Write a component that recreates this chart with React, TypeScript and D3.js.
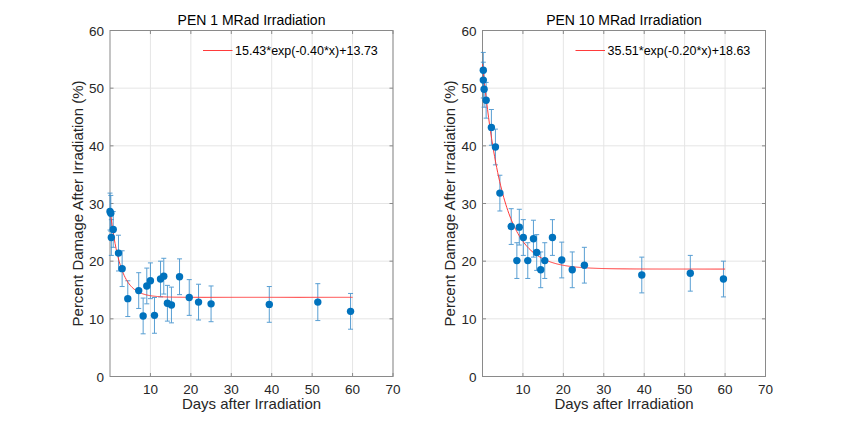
import React from "react";
import * as d3 from "d3";

const days1 = [0, 0.2, 0.33, 0.8, 2.1, 3.0, 4.4, 7.1, 8.2, 9.1, 10.0, 11.0, 12.5, 13.3, 14.2, 15.2, 17.2, 19.6, 21.9, 25.0, 39.4, 51.4, 59.5];
const damage1 = [28.6, 28.3, 24.1, 25.5, 21.4, 18.7, 13.5, 14.9, 10.5, 15.7, 16.6, 10.6, 16.9, 17.4, 12.7, 12.4, 17.3, 13.7, 12.9, 12.6, 12.5, 12.9, 11.3];
const err1 = [3.2, 3.1, 3.1, 3.1, 3.1, 3.1, 3.1, 3.1, 3.1, 3.1, 3.1, 3.1, 3.1, 3.1, 3.1, 3.1, 3.1, 3.1, 3.1, 3.1, 3.1, 3.2, 3.1];

const days2 = [0.2, 0.2, 0.4, 0.9, 2.2, 3.2, 4.3, 7.1, 8.5, 9.1, 10.1, 11.2, 12.6, 13.4, 14.4, 15.4, 17.3, 19.6, 22.2, 25.2, 39.4, 51.4, 59.6];
const damage2 = [53.1, 51.4, 49.8, 47.9, 43.2, 39.8, 31.8, 26.0, 20.1, 25.9, 24.1, 20.1, 23.9, 21.5, 18.5, 20.1, 24.1, 20.2, 18.5, 19.3, 17.6, 17.9, 16.9];
const err2 = [3.1, 3.1, 3.1, 3.1, 3.1, 3.1, 3.1, 3.1, 3.1, 3.1, 3.1, 3.1, 3.2, 3.1, 3.1, 3.1, 3.1, 3.1, 3.1, 3.1, 3.1, 3.1, 3.1];

const fit1 = { a: 15.43, b: -0.4, c: 13.73 };
const fit2 = { a: 35.51, b: -0.2, c: 18.63 };

const titles = ["PEN 1 MRad Irradiation", "PEN 10 MRad Irradiation"];
const legends = ["15.43*exp(-0.40*x)+13.73", "35.51*exp(-0.20*x)+18.63"];
const xTicks = [10, 20, 30, 40, 50, 60, 70];
const yTicks = [0, 10, 20, 30, 40, 50, 60];

const FONT = "'Liberation Sans', Arial, Helvetica, sans-serif";
const BLUE = "#0072BD";

type PanelProps = {
  left: number;
  days: number[];
  vals: number[];
  errs: number[];
  fit: { a: number; b: number; c: number };
  title: string;
  legend: string;
};

function Panel({ left, days, vals, errs, fit, title, legend }: PanelProps) {
  const top = 30.5;
  const bottom = 376.5;
  const right = left + 283;
  const x = d3.scaleLinear().domain([0, 70]).range([left, right]);
  const y = d3.scaleLinear().domain([0, 60]).range([bottom, top]);
  const fitPts = d3.range(0, 60.01, 0.25).map((t) => [t, fit.a * Math.exp(fit.b * t) + fit.c] as [number, number]);
  const line = d3.line<[number, number]>().x((d) => x(d[0])).y((d) => y(d[1]));
  const tickLen = 3.5;
  const axisColor = "#8a8a8a";
  const midX = (left + right) / 2;
  return (
    <g>
      <rect x={left} y={top} width={right - left} height={bottom - top} fill="#fff" />
      {xTicks.map((t) => (
        <line key={"gx" + t} x1={x(t)} x2={x(t)} y1={top} y2={bottom} stroke="#e5e5e5" strokeWidth={1} />
      ))}
      {yTicks.map((t) => (
        <line key={"gy" + t} x1={left} x2={right} y1={y(t)} y2={y(t)} stroke="#e5e5e5" strokeWidth={1} />
      ))}
      {xTicks.map((t) => (
        <g key={"tx" + t}>
          <line x1={x(t)} x2={x(t)} y1={bottom} y2={bottom - tickLen} stroke={axisColor} />
          <line x1={x(t)} x2={x(t)} y1={top} y2={top + tickLen} stroke={axisColor} />
          <text x={x(t)} y={bottom + 17} textAnchor="middle" fontSize={13.5} fill="#262626" fontFamily={FONT}>{t}</text>
        </g>
      ))}
      {yTicks.map((t) => (
        <g key={"ty" + t}>
          <line x1={left} x2={left + tickLen} y1={y(t)} y2={y(t)} stroke={axisColor} />
          <line x1={right} x2={right - tickLen} y1={y(t)} y2={y(t)} stroke={axisColor} />
          <text x={left - 6} y={y(t) + 5} textAnchor="end" fontSize={13.5} fill="#262626" fontFamily={FONT}>{t}</text>
        </g>
      ))}
      <rect x={left} y={top} width={right - left} height={bottom - top} fill="none" stroke={axisColor} strokeWidth={1} />
      {days.map((d, i) => {
        const cx = x(d);
        const y1 = y(vals[i] + errs[i]);
        const y2 = y(vals[i] - errs[i]);
        return (
          <g key={"e" + i} stroke="#3d8fcc" strokeWidth={1} opacity={0.85}>
            <line x1={cx} x2={cx} y1={y1} y2={y2} />
            <line x1={cx - 2.5} x2={cx + 2.5} y1={y1} y2={y1} />
            <line x1={cx - 2.5} x2={cx + 2.5} y1={y2} y2={y2} />
          </g>
        );
      })}
      <path d={line(fitPts) || ""} fill="none" stroke="#ff3b3b" strokeWidth={1} />
      {days.map((d, i) => (
        <circle key={"p" + i} cx={x(d)} cy={y(vals[i])} r={3.7} fill={BLUE} />
      ))}
      <line x1={left + 93} x2={left + 122.5} y1={50.5} y2={50.5} stroke="#ff3b3b" strokeWidth={1} />
      <text x={left + 125} y={55} fontSize={12.5} fill="#000" fontFamily={FONT}>{legend}</text>
      <text x={midX} y={25} textAnchor="middle" fontSize={14} fill="#000" fontFamily={FONT}>{title}</text>
      <text x={midX} y={408.5} textAnchor="middle" fontSize={15} fill="#262626" fontFamily={FONT}>Days after Irradiation</text>
      <text transform={`translate(${left - 27.5},${(top + bottom) / 2}) rotate(-90)`} textAnchor="middle" fontSize={15} fill="#262626" fontFamily={FONT}>Percent Damage After Irradiation (%)</text>
    </g>
  );
}

export default function App() {
  return (
    <svg width={847} height={424} style={{ position: "absolute", left: 0, top: 0, background: "#fff" }}>
      <rect width={847} height={424} fill="#fff" />
      <Panel left={110} days={days1} vals={damage1} errs={err1} fit={fit1} title={titles[0]} legend={legends[0]} />
      <Panel left={482.5} days={days2} vals={damage2} errs={err2} fit={fit2} title={titles[1]} legend={legends[1]} />
    </svg>
  );
}
